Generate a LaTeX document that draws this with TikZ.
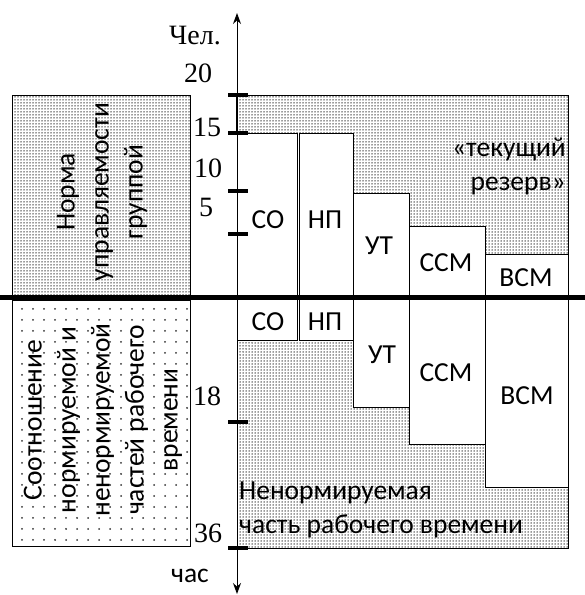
\documentclass[tikz,border=0pt]{standalone}
\usepackage{fontspec}
\setmainfont{Liberation Serif}
\newfontfamily\lblfont{Carlito}
\usetikzlibrary{arrows.meta,patterns.meta}
\tikzset{
  dense/.style={pattern={Dots[distance=3pt,radius=0.75pt]},pattern color=black!80},
  sparse/.style={pattern={Dots[distance=11pt,radius=1pt]},pattern color=black!80},
  lbl/.style={font=\lblfont\fontsize{27.5}{34}\selectfont, inner sep=0pt},
  num/.style={font=\fontsize{28}{28}\selectfont, inner sep=0pt},
  bar/.style={draw, fill=white, line width=1pt},
  axtick/.style={line width=4pt}
}
\begin{document}
\begin{tikzpicture}[x=1pt,y=-1pt]
\pgfmathsetmacro{\ax}{237};
\pgfmathsetmacro{\my}{297};
\pgfmathsetmacro{\rx}{568};
\useasboundingbox (0,0) rectangle (585,595);
\begin{scope}
% upper half: persons
\draw[dense, line width=1pt] (12,95) rectangle (190,\my);
\draw[dense, line width=1pt] (\ax,95) rectangle (\rx,\my);
\draw[bar] (\ax,133) rectangle (297,\my);
\draw[bar] (299,133) rectangle (353,\my);
\draw[bar] (353,193) rectangle (409,\my);
\draw[bar] (409,226) rectangle (485,\my);
\draw[bar] (485,254) rectangle (\rx,\my);
\node[lbl] (co1) at (268,220) {СО};
\node[lbl] (np1) at (325,220) {НП};
\node[lbl] (ut1) at (379,246) {УТ};
\node[lbl] (ssm1) at (446,263) {ССМ};
\node[lbl] (vsm1) at (526,278) {ВСМ};
\node[lbl, align=right, anchor=east] (rez) at (566,166) {«текущий\\резерв»};
\node[lbl, align=center, rotate=90] (norma) at (102,192) {Норма\\управляемости\\группой};
\end{scope}
\begin{scope}
% lower half: hours
\draw[sparse, line width=1pt] (12,300) rectangle (190,546);
\draw[dense, line width=1pt] (\ax,\my) rectangle (\rx,548);
\draw[bar] (\ax,\my) rectangle (297,340);
\draw[bar] (299,\my) rectangle (353,340);
\draw[bar] (353,\my) rectangle (409,407);
\draw[bar] (409,\my) rectangle (485,444);
\draw[bar] (485,\my) rectangle (\rx,487);
\node[lbl] (co2) at (268,322) {СО};
\node[lbl] (np2) at (325,322) {НП};
\node[lbl] (ut2) at (382,355) {УТ};
\node[lbl] (ssm2) at (446,373) {ССМ};
\node[lbl] (vsm2) at (527,396) {ВСМ};
\node[lbl, align=left, anchor=west] (nenorm) at (239,510) {Ненормируемая\\часть рабочего времени};
\node[lbl, align=center, rotate=90] (sootn) at (103,420) {Соотношение\\нормируемой и\\ненормируемой\\частей рабочего\\времени};
\end{scope}
\draw[line width=5pt] (0,\my) -- (585,\my);
\coordinate (top) at (\ax,13);
\coordinate (bot) at (\ax,594);
\draw[{Stealth[length=11pt,width=8pt]}-{Stealth[length=11pt,width=8pt]}, line width=1pt] (bot) -- (top);
\draw[line width=2.5pt] (\ax,95) -- (\ax,133);
\foreach \ty in {95,133,191,234,422,548}
  \draw[axtick] (\ax-9,\ty) -- (\ax+11,\ty);
\node[num] (chel) at (195,36) {Чел.};
\node[num] (n20) at (198,73) {20};
\node[num] (n15) at (207,127) {15};
\node[num] (n10) at (208,168) {10};
\node[num] (n5) at (206,207) {5};
\node[num] (n18) at (207,396) {18};
\node[num] (n36) at (208,533) {36};
\node[lbl] (chas) at (190,576) {час};
\end{tikzpicture}
\end{document}
